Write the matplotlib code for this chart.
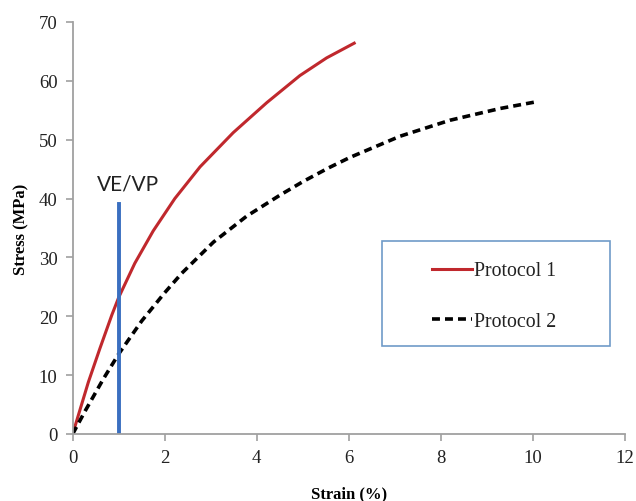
import matplotlib
matplotlib.use("Agg")
import matplotlib.pyplot as plt
from matplotlib.patches import Rectangle

# Data
strain_p1 = [0, 0.34, 0.59, 0.85, 1.0, 1.35, 1.75, 2.22, 2.77, 3.49, 4.22, 4.94, 5.52, 6.12]
stress_p1 = [0, 8.8, 14.5, 20.2, 23.2, 29.0, 34.5, 40.0, 45.4, 51.2, 56.3, 60.9, 63.9, 66.4]

strain_p2 = [0, 0.27, 0.67, 1.0, 1.5, 2.0, 2.37, 3.06, 3.78, 4.51, 5.01, 5.56, 6.03, 7.12, 8.20, 9.29, 10.05]
stress_p2 = [0, 3.9, 9.4, 13.6, 19.2, 24.0, 27.3, 32.6, 37.0, 40.6, 42.9, 45.2, 47.0, 50.6, 53.3, 55.3, 56.4]

ve_vp_strain = 1.0
ve_vp_top = 39.0

x_ticks = [0, 2, 4, 6, 8, 10, 12]
y_ticks = [0, 10, 20, 30, 40, 50, 60, 70]

fig = plt.figure(figsize=(6.36, 5.02), dpi=100)
ax = fig.add_axes([0.1143, 0.1335, 0.8679, 0.8207])

serif = ["Liberation Serif", "DejaVu Serif"]

ax.plot(strain_p1, stress_p1, color="#c0282d", lw=2.2, label="Protocol 1",
        solid_joinstyle="round")
ax.plot(strain_p2, stress_p2, color="black", lw=2.6, ls=(0, (2.2, 1.4)), label="Protocol 2")
ax.plot([ve_vp_strain, ve_vp_strain], [0, ve_vp_top], color="#3a6fc0", lw=2.8)
ax.text(0.53, 42.6, "VE/VP", family=["Lato", "DejaVu Sans"], fontsize=15, va="center", ha="left", color="#222222")

ax.set_xlim(0, 12)
ax.set_ylim(0, 70)
ax.set_xticks(x_ticks)
ax.set_yticks(y_ticks)
for lab in ax.get_xticklabels() + ax.get_yticklabels():
    lab.set_family(serif)
    lab.set_fontsize(13.5)
    lab.set_color("#222222")
ax.tick_params(direction="out", length=5, color="#a0a0a0", width=1.2, pad=6)

for s in ["top", "right"]:
    ax.spines[s].set_visible(False)
for s in ["left", "bottom"]:
    ax.spines[s].set_color("#a0a0a0")
    ax.spines[s].set_linewidth(1.3)

ax.set_xlabel("Strain (%)", family=serif, fontweight="bold", fontsize=12, labelpad=14)
ax.set_ylabel("Stress (MPa)", family=serif, fontweight="bold", fontsize=12, labelpad=7)

rect = Rectangle((0.560, 0.214), 0.413, 0.255, transform=ax.transAxes, fill=False,
                 edgecolor="#6f9bc8", lw=1.2, zorder=5)
ax.add_patch(rect)
leg = ax.legend(loc="center left", bbox_to_anchor=(0.651, 0.334), frameon=False,
                prop={"family": serif, "size": 14.3}, handlelength=2.0, handletextpad=0.12,
                labelspacing=1.6, borderpad=0, borderaxespad=0)
for t in leg.get_texts():
    t.set_color("#222222")

fig.savefig("out.png", dpi=100)
